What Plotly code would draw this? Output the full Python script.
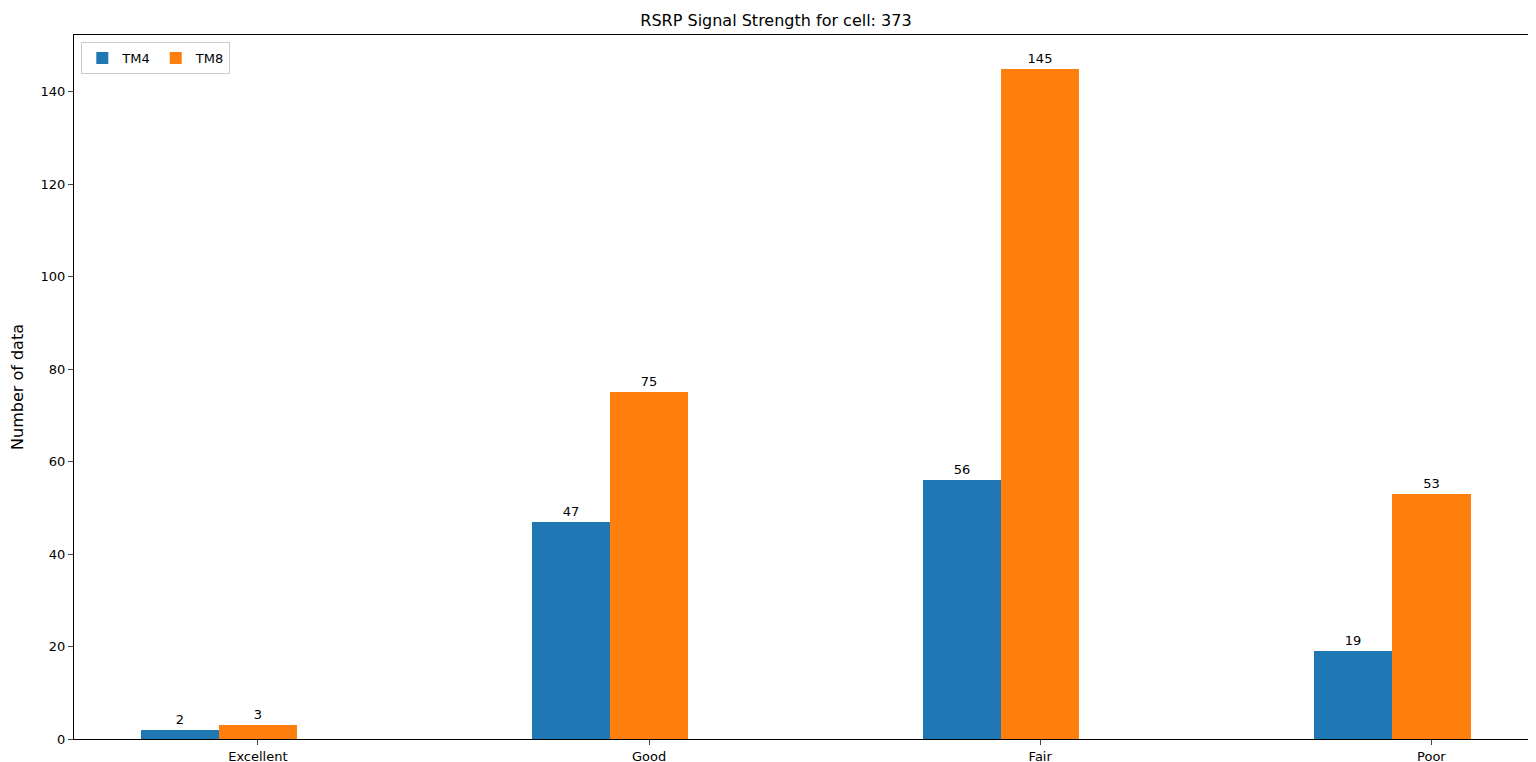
import plotly.graph_objects as go

categories = ["Excellent", "Good", "Fair", "Poor"]
tm4 = [2, 47, 56, 19]
tm8 = [3, 75, 145, 53]
y_ticks = [0, 20, 40, 60, 80, 100, 120, 140]

idx = list(range(len(categories)))
width = 0.2

fig = go.Figure()
fig.add_trace(go.Bar(x=[i - width for i in idx], y=tm4, width=width, name="TM4",
                     marker=dict(color="#1f77b4", line=dict(width=0)),
                     text=tm4, textposition="outside", cliponaxis=False,
                     textfont=dict(color="black", size=13)))
fig.add_trace(go.Bar(x=idx, y=tm8, width=width, name="TM8",
                     marker=dict(color="#ff7f0e", line=dict(width=0)),
                     text=tm8, textposition="outside", cliponaxis=False,
                     textfont=dict(color="black", size=13)))

fig.update_layout(
    width=1536, height=762,
    margin=dict(l=60, r=6, t=27, b=28),
    plot_bgcolor="white", paper_bgcolor="white",
    font=dict(family="DejaVu Sans", size=13, color="black"),
    title=dict(text="RSRP Signal Strength for cell: 373", x=0.5, xanchor="center", y=0.984, yanchor="middle",
               font=dict(size=16)),
    barmode="overlay", bargap=0,
    legend=dict(orientation="h", x=0.005, y=0.99, xanchor="left", yanchor="top",
                bordercolor="#cccccc", borderwidth=1, bgcolor="white"),
    showlegend=True,
)
fig.update_xaxes(range=[-0.47, 3.27], tickvals=idx, ticktext=categories,
                 showline=True, linecolor="black", mirror=True, ticks="outside",
                 showgrid=False, zeroline=False)
fig.update_yaxes(range=[0, 152.25], tickvals=y_ticks, title_text="Number of data",
                 showline=True, linecolor="black", mirror=True, ticks="outside",
                 showgrid=False, zeroline=False)
fig.write_html("out.html")
